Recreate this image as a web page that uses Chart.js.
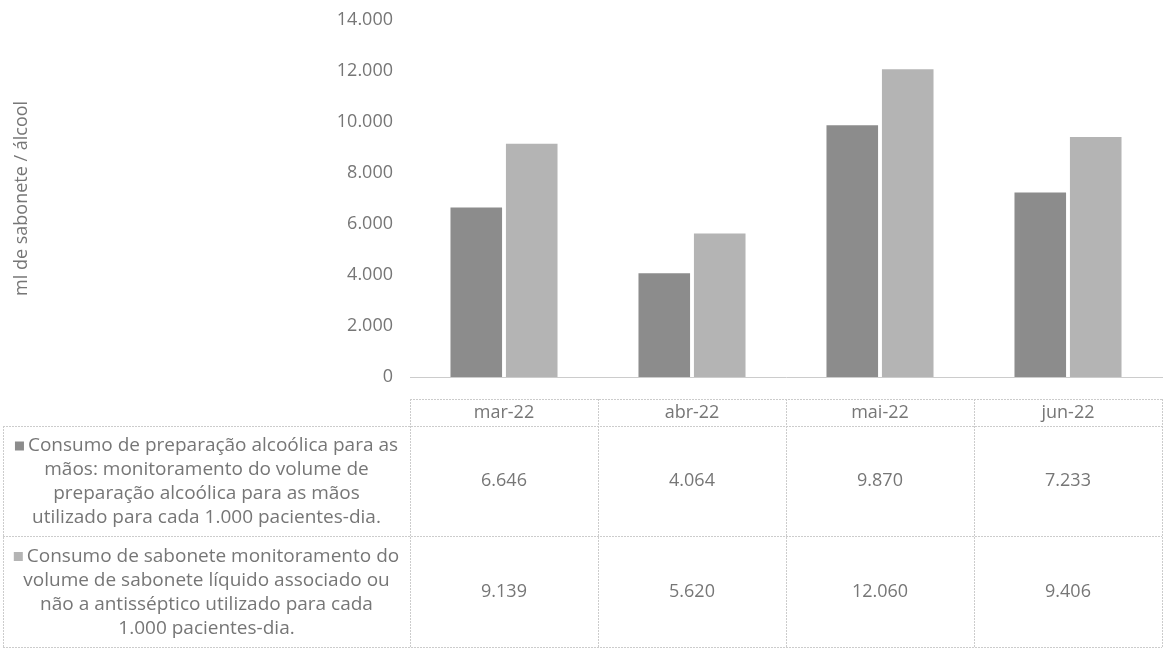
<!DOCTYPE html>
<html>
<head>
<meta charset="utf-8">
<script src="https://cdn.jsdelivr.net/npm/chart.js@4"></script>
<style>
    html, body { margin: 0; padding: 0; background: #fff; }
    #wrap { width: 1166px; height: 650px; }
</style>
</head>
<body>
<div id="wrap"><canvas id="barChart" width="1166" height="650"></canvas></div>
<script>
const categories = ['mar-22', 'abr-22', 'mai-22', 'jun-22'];
const alcoolValues = [6646, 4064, 9870, 7233];
const saboneteValues = [9139, 5620, 12060, 9406];
const seriesNames = [
    ['Consumo de preparação alcoólica para as', 'mãos: monitoramento do volume de', 'preparação alcoólica para as mãos', 'utilizado para cada 1.000 pacientes-dia.'],
    ['Consumo de sabonete monitoramento do', 'volume de sabonete líquido associado ou', 'não a antisséptico utilizado para cada', '1.000 pacientes-dia.']
];
const yTicks = [0, 2000, 4000, 6000, 8000, 10000, 12000, 14000];
const yTitle = 'ml de sabonete / álcool';

const textColor = '#767676';
const lineColor = '#cccccc';
const fontFamily = '"Open Sans", sans-serif';

// 6646 -> "6.646"
function fmt(v) {
    return String(v).replace(/\B(?=(\d{3})+(?!\d))/g, '.');
}

// tabela de dados abaixo do gráfico (estilo Excel)
const dataTable = {
    id: 'dataTable',
    afterDraw: chart => {
        const ctx = chart.ctx;
        const xs = chart.scales.x;
        const area = chart.chartArea;
        const colW = (area.right - area.left) / categories.length;
        const rows = [399, 426, 536, 647]; // topo, cabeçalho, linha 1, linha 2
        const cellLeft = 3;

        ctx.save();
        ctx.strokeStyle = lineColor;
        ctx.lineWidth = 1;
        ctx.setLineDash([2, 1]);

        // linhas horizontais
        ctx.beginPath();
        ctx.moveTo(area.left, rows[0] + 0.5);
        ctx.lineTo(area.right, rows[0] + 0.5);
        for (let r = 1; r < rows.length; r++) {
            ctx.moveTo(cellLeft, rows[r] + 0.5);
            ctx.lineTo(area.right, rows[r] + 0.5);
        }
        // linhas verticais
        for (let i = 0; i <= categories.length; i++) {
            const x = Math.round(area.left + i * colW) + 0.5;
            ctx.moveTo(x, rows[0]);
            ctx.lineTo(x, rows[3]);
        }
        ctx.moveTo(cellLeft + 0.5, rows[1]);
        ctx.lineTo(cellLeft + 0.5, rows[3]);
        ctx.stroke();
        ctx.setLineDash([]);

        ctx.fillStyle = textColor;
        ctx.textAlign = 'center';
        ctx.textBaseline = 'middle';
        ctx.font = '18px ' + fontFamily;
        categories.forEach((c, i) => {
            ctx.fillText(c, xs.getPixelForValue(i), (rows[0] + rows[1]) / 2);
        });

        const datasets = chart.data.datasets;
        datasets.forEach((ds, d) => {
            const top = rows[d + 1];
            const bottom = rows[d + 2];
            const mid = (top + bottom) / 2;

            ctx.font = '18px ' + fontFamily;
            ctx.fillStyle = textColor;
            ds.data.forEach((v, i) => {
                ctx.fillText(fmt(v), xs.getPixelForValue(i), mid);
            });

            // legenda na célula da esquerda
            const lines = seriesNames[d];
            const lh = 24;
            const cx = (cellLeft + area.left) / 2;
            const y0 = mid - (lines.length - 1) * lh / 2 + 1;
            ctx.font = '19px ' + fontFamily;
            lines.forEach((line, k) => {
                const y = y0 + k * lh;
                if (k === 0) {
                    const key = 9;
                    const w = ctx.measureText(line).width + key + 4;
                    const sx = cx - w / 2;
                    ctx.fillStyle = ds.backgroundColor;
                    ctx.fillRect(sx, y - key / 2, key, key);
                    ctx.fillStyle = textColor;
                    ctx.textAlign = 'left';
                    ctx.fillText(line, sx + key + 4, y);
                    ctx.textAlign = 'center';
                } else {
                    ctx.fillStyle = textColor;
                    ctx.fillText(line, cx, y);
                }
            });
        });
        ctx.restore();
    }
};

function createBarChart() {
    const ctx = document.getElementById('barChart').getContext('2d');
    new Chart(ctx, {
        type: 'bar',
        data: {
            labels: categories,
            datasets: [{
                label: seriesNames[0].join(' '),
                data: alcoolValues,
                backgroundColor: '#8c8c8c',
                categoryPercentage: 0.59,
                barPercentage: 0.93
            }, {
                label: seriesNames[1].join(' '),
                data: saboneteValues,
                backgroundColor: '#b4b4b4',
                categoryPercentage: 0.59,
                barPercentage: 0.93
            }]
        },
        options: {
            responsive: false,
            animation: false,
            layout: { padding: { top: 4, bottom: 265, right: 4, left: 0 } },
            plugins: {
                legend: { display: false },
                tooltip: { enabled: false }
            },
            scales: {
                x: {
                    grid: { display: false },
                    ticks: { display: false },
                    border: { display: true, color: lineColor, dash: [2, 1] }
                },
                y: {
                    min: 0,
                    max: 14000,
                    afterBuildTicks: scale => {
                        scale.ticks = yTicks.map(v => ({ value: v }));
                    },
                    afterFit: scale => { scale.width = 410; },
                    grid: { display: false },
                    border: { display: false },
                    ticks: {
                        color: textColor,
                        padding: 9,
                        font: { family: fontFamily, size: 18 },
                        callback: v => fmt(v)
                    },
                    title: {
                        display: true,
                        text: yTitle,
                        color: textColor,
                        font: { family: fontFamily, size: 18 },
                        padding: { top: 11, bottom: 0 }
                    }
                }
            }
        },
        plugins: [dataTable]
    });
}

document.addEventListener('DOMContentLoaded', createBarChart);
</script>
</body>
</html>
